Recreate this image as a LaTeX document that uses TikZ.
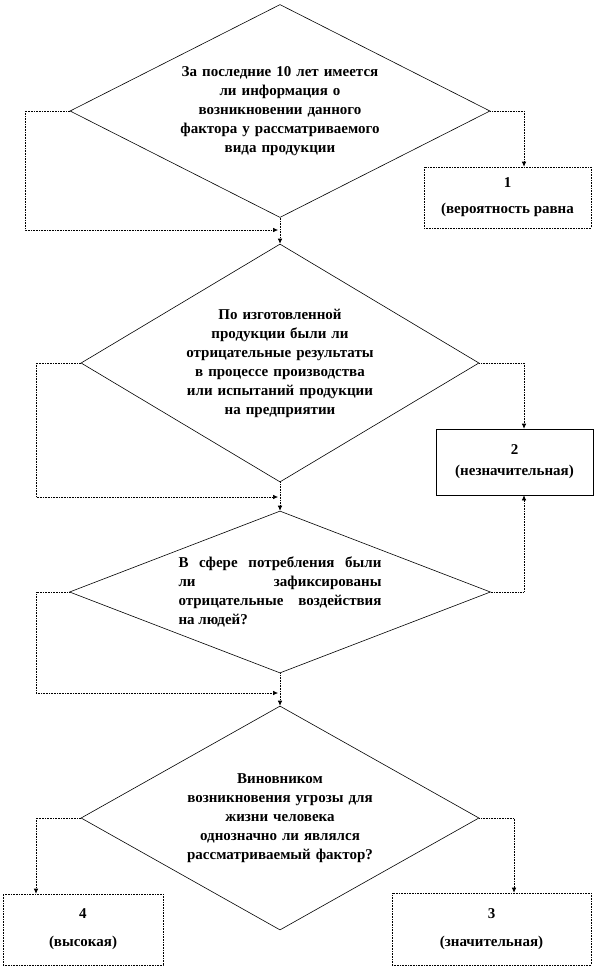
\documentclass[tikz,border=0pt]{standalone}
\usepackage{fontspec}
\setmainfont{Liberation Serif}
\usetikzlibrary{arrows.meta,shapes.geometric}
\newcommand\qfont{\fontsize{15}{19}\selectfont\bfseries}

\begin{document}
\begin{tikzpicture}[x=1pt,y=-1pt,
 q/.style={diamond,draw,line width=.6pt,inner sep=0pt,align=center,font=\qfont},
 b/.style={draw,line width=.6pt,inner sep=0pt,align=center,font=\qfont},
 bd/.style={b,densely dotted},
 c/.style={line width=.6pt,densely dotted,-{Latex[length=5pt,width=4.5pt]}}]
\useasboundingbox (0,0) rectangle (596,967);
\node[q,text width=200pt,aspect=2,minimum width=420pt,minimum height=213pt] (d1) at (280,111)
 {За последние 10 лет имеется\\ли информация о\\возникновении данного\\фактора у рассматриваемого\\вида продукции};
\node[q,text width=190pt,aspect=1.67,minimum width=398pt,minimum height=238pt] (d2) at (280,363)
 {По изготовленной\\продукции были ли\\отрицательные результаты\\в процессе производства\\или испытаний продукции\\на предприятии};
\node[q,text width=203pt,align=justify,aspect=2.6,minimum width=421pt,minimum height=162pt] (d3) at (280,592)
 {В сфере потребления были\linebreak ли зафиксированы\linebreak отрицательные воздействия\linebreak на людей?};
\node[q,text width=200pt,aspect=1.78,minimum width=398pt,minimum height=224pt] (d4) at (280,818)
 {Виновником\\возникновения угрозы для\\жизни человека\\однозначно ли являлся\\рассматриваемый фактор?};
\node[bd,minimum width=167pt,minimum height=61pt] (b1) at (507.5,197.5) {1\\[7pt](вероятность равна};
\node[b,minimum width=157pt,minimum height=66pt] (b2) at (514.5,462) {2\\[2pt](незначительная)};
\node[bd,minimum width=160pt,minimum height=71pt] (b4) at (83,929.5) {4\\[9pt](высокая)};
\node[bd,minimum width=199pt,minimum height=72pt] (b3) at (491.5,929) {3\\[9pt](значительная)};
\coordinate (lx) at (25,0);
\coordinate (mx) at (36,0);
\coordinate (rx) at (524,0);
\coordinate (sx) at (514,0);
\coordinate (j1) at (278,230);
\coordinate (j2) at (278,497);
\coordinate (j3) at (278,693);
\draw[c] (d1.south) -- (d2.north);
\draw[c] (d1.west) -- (d1.west -| lx) |- (j1);
\draw[c] (d1.east) -| (b1.north -| rx);
\draw[c] (d2.south) -- (d3.north);
\draw[c] (d2.west) -- (d2.west -| mx) |- (j2);
\draw[c] (d2.east) -| (b2.north -| rx);
\draw[c] (d3.south) -- (d4.north);
\draw[c] (d3.west) -- (d3.west -| mx) |- (j3);
\draw[c] (d3.east) -| (b2.south -| rx);
\draw[c] (d4.west) -| (b4.north -| mx);
\draw[c] (d4.east) -| (b3.north -| sx);
\end{tikzpicture}
\end{document}
